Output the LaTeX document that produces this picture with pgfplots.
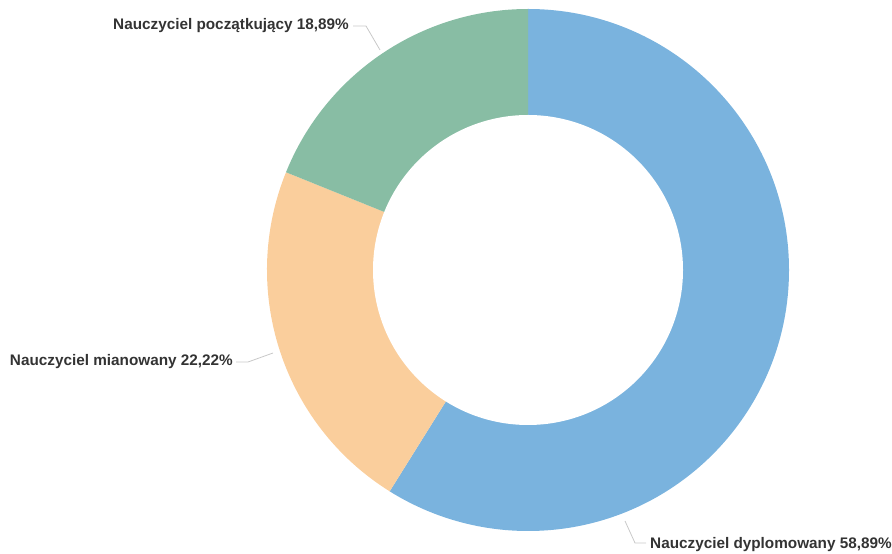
\documentclass[border=0pt]{standalone}
\usepackage{pgfplots}
\usepackage{pgfplotstable}
\pgfplotsset{compat=1.18}
\usepackage{fontspec}
\setmainfont{Liberation Sans}

\definecolor{dypl}{HTML}{7AB3DE}
\definecolor{mian}{HTML}{FACE9C}
\definecolor{pocz}{HTML}{88BDA4}
\definecolor{txt}{HTML}{333333}
\definecolor{lead}{HTML}{C8C8C8}

% share of teachers, percent (clockwise from 12 o'clock)
\pgfplotstableread[col sep=comma]{
name,share
Nauczyciel dyplomowany,58.89
Nauczyciel mianowany,22.22
Nauczyciel poczatkujacy,18.89
}\shares

\pgfplotstablegetelem{0}{share}\of\shares \let\sA\pgfplotsretval
\pgfplotstablegetelem{1}{share}\of\shares \let\sB\pgfplotsretval
\pgfplotstablegetelem{2}{share}\of\shares \let\sC\pgfplotsretval
\pgfmathsetmacro\aA{90}
\pgfmathsetmacro\aB{\aA-3.6*\sA}
\pgfmathsetmacro\aC{\aB-3.6*\sB}
\pgfmathsetmacro\aD{\aC-3.6*\sC}

\def\R{261}
\def\r{155}

\begin{document}
\begin{tikzpicture}
\useasboundingbox (0,0) rectangle (892pt,554pt);
\begin{axis}[
  at={(0,0)}, anchor=south west,
  scale only axis, width=892pt, height=554pt,
  xmin=0, xmax=892, ymin=0, ymax=554,
  hide axis, clip=false,
]
% donut slices
\fill[dypl] (axis cs:528,284) -- ++(\aA:\R pt) arc[start angle=\aA, end angle=\aB, radius=\R pt] -- cycle;
\fill[mian] (axis cs:528,284) -- ++(\aB:\R pt) arc[start angle=\aB, end angle=\aC, radius=\R pt] -- cycle;
\fill[pocz] (axis cs:528,284) -- ++(\aC:\R pt) arc[start angle=\aC, end angle=\aD, radius=\R pt] -- cycle;
\fill[white] (axis cs:528,284) circle[radius=\r pt];

% leader lines
\draw[lead, line width=0.8pt] (axis cs:353,528) -- (axis cs:366,528) -- (axis cs:380,504);
\draw[lead, line width=0.8pt] (axis cs:236,192) -- (axis cs:248,192) -- (axis cs:273,201);
\draw[lead, line width=0.8pt] (axis cs:625,33) -- (axis cs:635,11) -- (axis cs:646,11);

% labels
\tikzset{lbl/.style={font=\fontsize{15.3}{17}\selectfont\bfseries, text=txt, inner sep=0pt}}
\node[lbl, anchor=east] at (axis cs:349,528) {Nauczyciel początkujący 18,89\%};
\node[lbl, anchor=east] at (axis cs:233,192) {Nauczyciel mianowany 22,22\%};
\node[lbl, anchor=west] at (axis cs:650,9) {Nauczyciel dyplomowany 58,89\%};
\end{axis}
\end{tikzpicture}
\end{document}
